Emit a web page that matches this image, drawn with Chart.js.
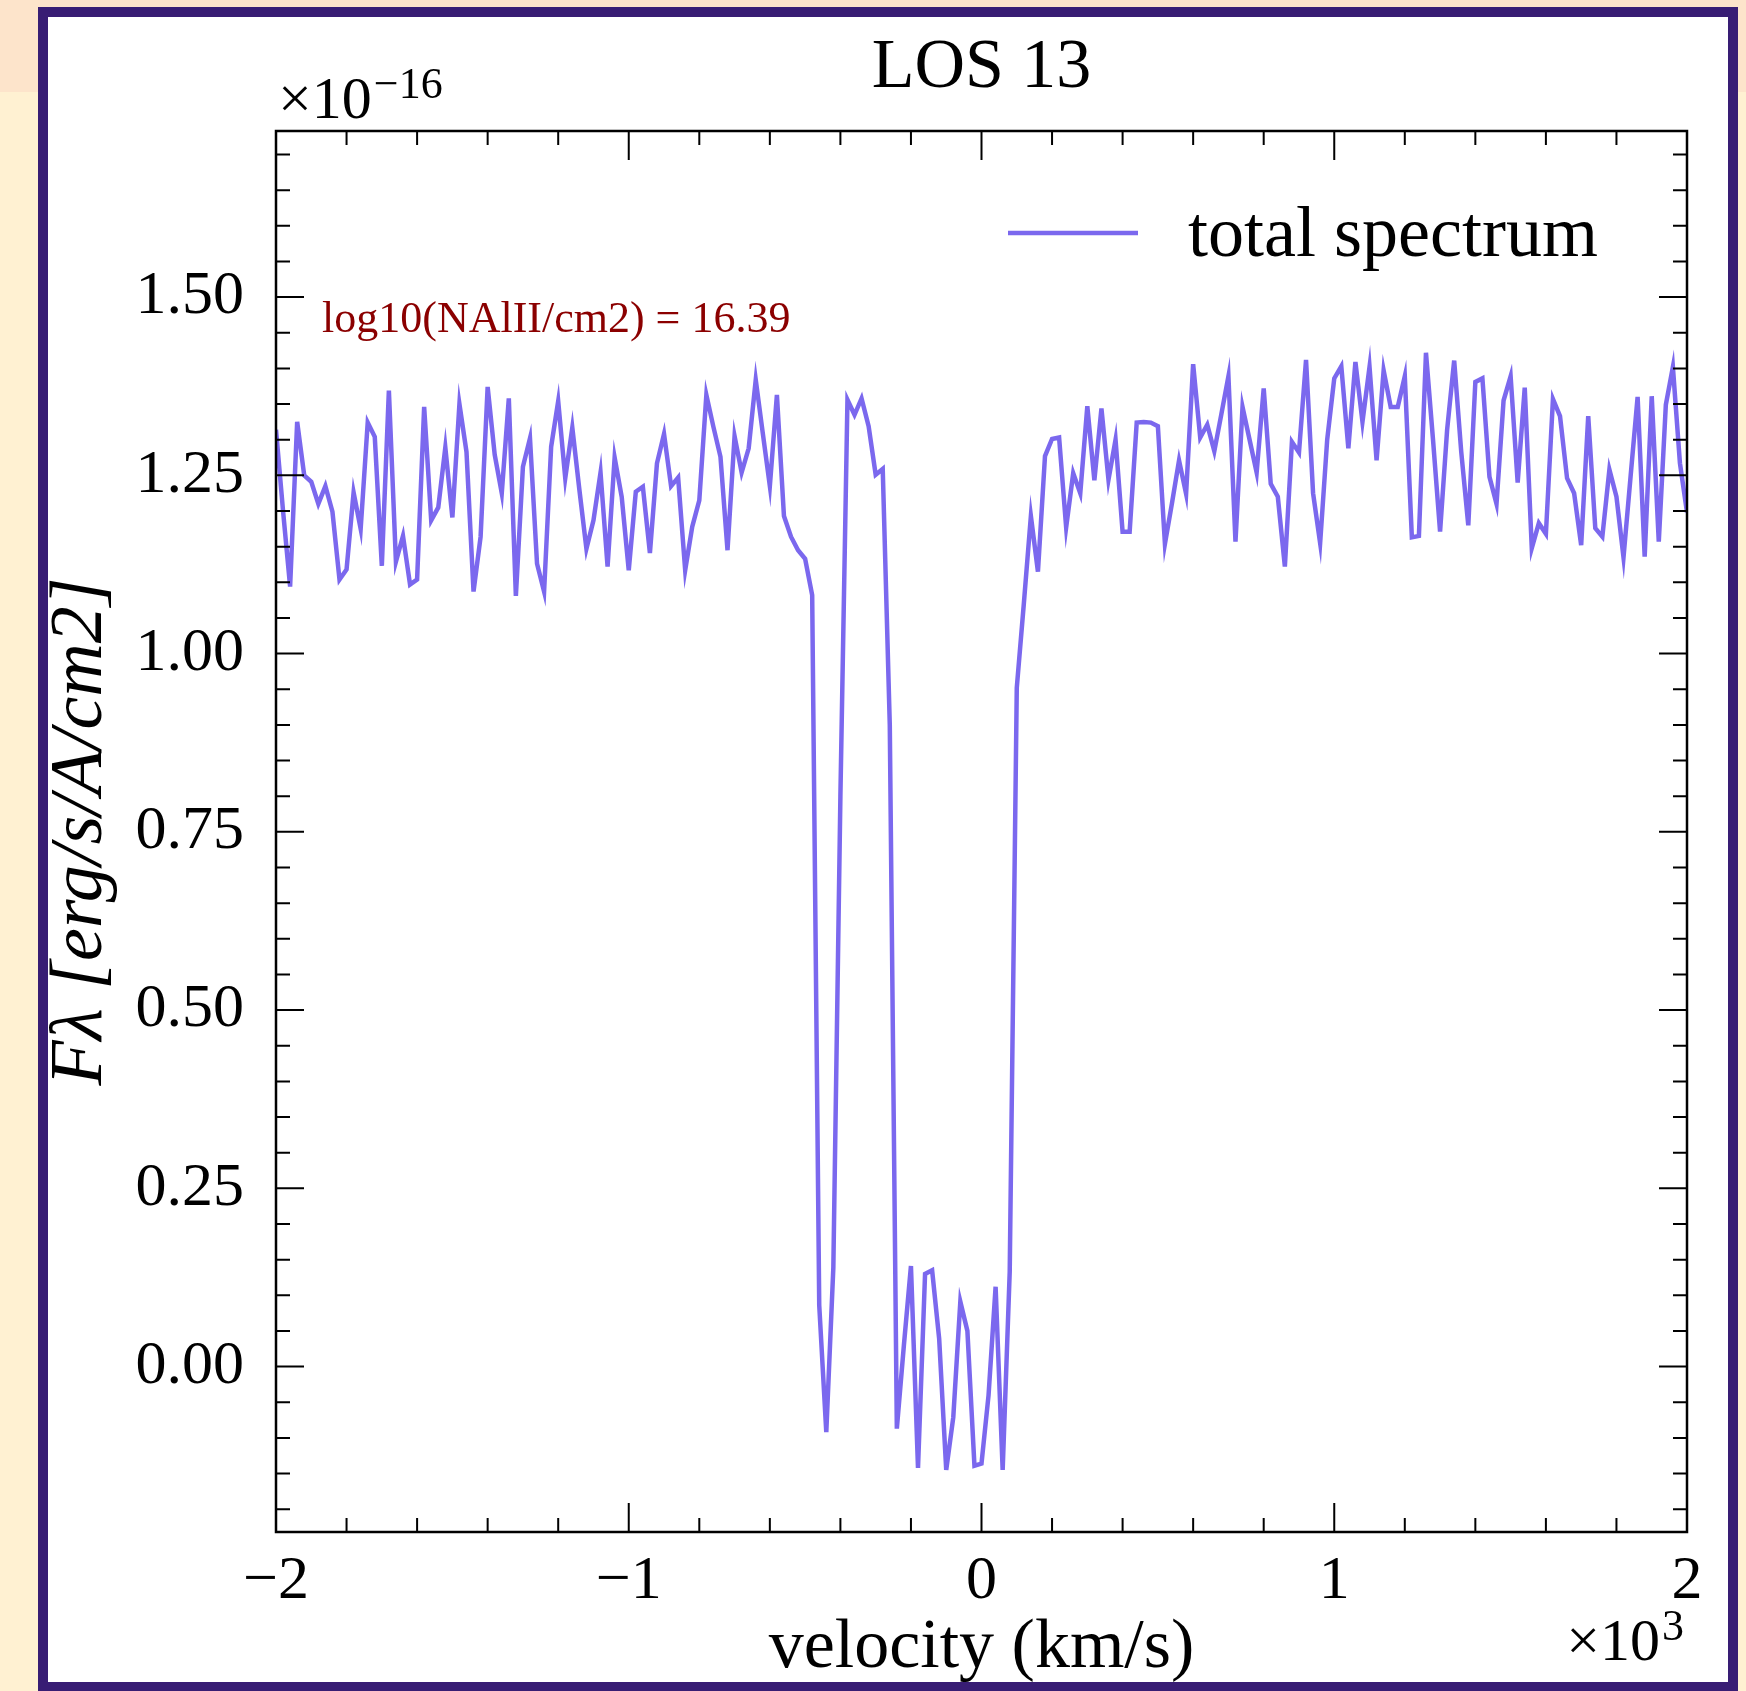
<!DOCTYPE html>
<html>
<head>
<meta charset="utf-8">
<title>LOS 13</title>
<script src="https://cdn.jsdelivr.net/npm/chart.js@4.4.1/dist/chart.umd.min.js"></script>
<style>
  html, body { margin: 0; padding: 0; }
  body { width: 1746px; height: 1691px; position: relative; overflow: hidden; background: #fff1d2; }
  #peach { position: absolute; left: 0; top: 0; width: 1746px; height: 92px; background: #fde4cb; }
  #panel { position: absolute; left: 38px; top: 7px; width: 1680px; height: 1665px; background: #fff; border: 10px solid #381d74; }
  #chart { position: absolute; left: 0; top: 0; }
</style>
</head>
<body>
<div id="peach"></div>
<div id="panel"></div>
<canvas id="chart" width="1746" height="1691"></canvas>
<script>
// spectrum sampled every 20 km/s from -2000 to +2000
var velocityStart = -2000;
var velocityStep = 20;
// F_lambda, in units of 1e-16 erg/s/A/cm2
var flux = [
  1.314, 1.200, 1.094, 1.325, 1.250, 1.241, 1.210, 1.235, 1.199, 1.104,
  1.118, 1.226, 1.175, 1.324, 1.304, 1.123, 1.369, 1.129, 1.165, 1.097,
  1.104, 1.346, 1.187, 1.205, 1.289, 1.191, 1.350, 1.283, 1.087, 1.164,
  1.374, 1.279, 1.225, 1.358, 1.081, 1.262, 1.302, 1.126, 1.087, 1.290,
  1.354, 1.246, 1.317, 1.230, 1.147, 1.187, 1.254, 1.122, 1.275, 1.220,
  1.117, 1.227, 1.234, 1.141, 1.267, 1.308, 1.235, 1.247, 1.117, 1.178,
  1.215, 1.363, 1.318, 1.276, 1.145, 1.305, 1.254, 1.288, 1.384, 1.309,
  1.235, 1.363, 1.193, 1.164, 1.145, 1.133, 1.082, 0.086, -0.092, 0.139,
  0.800, 1.356, 1.335, 1.358, 1.319, 1.251, 1.259, 0.900, -0.087, 0.030,
  0.141, -0.142, 0.130, 0.135, 0.039, -0.145, -0.071, 0.091, 0.050, -0.139,
  -0.136, -0.040, 0.112, -0.145, 0.133, 0.952, 1.070, 1.193, 1.115, 1.277,
  1.301, 1.303, 1.177, 1.253, 1.225, 1.347, 1.243, 1.344, 1.244, 1.300,
  1.171, 1.171, 1.324, 1.325, 1.324, 1.319, 1.154, 1.211, 1.271, 1.224,
  1.406, 1.303, 1.321, 1.284, 1.336, 1.389, 1.157, 1.346, 1.300, 1.254,
  1.372, 1.238, 1.220, 1.122, 1.297, 1.282, 1.412, 1.225, 1.155, 1.300,
  1.386, 1.403, 1.288, 1.409, 1.325, 1.402, 1.271, 1.397, 1.346, 1.346,
  1.389, 1.163, 1.165, 1.422, 1.300, 1.171, 1.314, 1.411, 1.283, 1.180,
  1.381, 1.386, 1.248, 1.210, 1.355, 1.389, 1.240, 1.373, 1.148, 1.183,
  1.168, 1.357, 1.333, 1.246, 1.225, 1.152, 1.333, 1.176, 1.164, 1.258,
  1.220, 1.135, 1.248, 1.360, 1.136, 1.361, 1.157, 1.349, 1.402, 1.267,
  1.198
];
var xTicks = [-2000, -1000, 0, 1000, 2000];
var yTicks = [0, 0.25, 0.5, 0.75, 1.0, 1.25, 1.5];
var xMinorStep = 200;
var yMinorStep = 0.05;
var xMin = -2000, xMax = 2000;
var yMin = -0.232, yMax = 1.733;
var chartTitle = 'LOS 13';
var seriesName = 'total spectrum';
var noteText = 'log10(NAlII/cm2) = 16.39';

var serif = "'Liberation Serif', 'DejaVu Serif', serif";
Chart.defaults.font.family = serif;
Chart.defaults.color = '#000';

var points = flux.map(function (f, i) {
    return { x: velocityStart + i * velocityStep, y: f };
});

// matplotlib style ticks pointing into the frame, on all four sides
var insideTicks = {
    id: 'insideTicks',
    afterDatasetsDraw: function (chart) {
        var ctx = chart.ctx, a = chart.chartArea, x = chart.scales.x, y = chart.scales.y;
        ctx.save();
        ctx.strokeStyle = '#000';
        ctx.lineWidth = 2;
        ctx.beginPath();
        for (var k = Math.ceil(xMin / xMinorStep); k <= Math.floor(xMax / xMinorStep); k++) {
            var px = x.getPixelForValue(k * xMinorStep);
            var len = (k % 5 === 0) ? 29 : 14;
            ctx.moveTo(px, a.bottom); ctx.lineTo(px, a.bottom - len);
            ctx.moveTo(px, a.top); ctx.lineTo(px, a.top + len);
        }
        for (var j = Math.ceil(yMin / yMinorStep); j <= Math.floor(yMax / yMinorStep); j++) {
            var py = y.getPixelForValue(j * yMinorStep);
            var l2 = (j % 5 === 0) ? 28 : 14;
            ctx.moveTo(a.left, py); ctx.lineTo(a.left + l2, py);
            ctx.moveTo(a.right, py); ctx.lineTo(a.right - l2, py);
        }
        ctx.stroke();
        ctx.lineWidth = 2.5;
        ctx.strokeRect(a.left, a.top, a.right - a.left, a.bottom - a.top);
        ctx.restore();
    }
};

function drawPower(ctx, base, exp, x, baseline, raise, align) {
    ctx.font = '60px ' + serif;
    var wb = ctx.measureText(base).width;
    ctx.font = '44px ' + serif;
    var we = ctx.measureText(exp).width;
    var x0 = align === 'right' ? x - wb - we - 2 : x;
    ctx.textAlign = 'left';
    ctx.textBaseline = 'alphabetic';
    ctx.font = '60px ' + serif;
    ctx.fillText(base, x0, baseline);
    ctx.font = '44px ' + serif;
    ctx.fillText(exp, x0 + wb + 2, baseline - raise);
}

var extraText = {
    id: 'extraText',
    afterDraw: function (chart) {
        var ctx = chart.ctx;
        var ds = chart.data.datasets[0];
        ctx.save();
        // legend in the upper right of the frame
        ctx.strokeStyle = ds.borderColor;
        ctx.lineWidth = ds.borderWidth;
        ctx.beginPath();
        ctx.moveTo(1008, 233);
        ctx.lineTo(1138, 233);
        ctx.stroke();
        ctx.fillStyle = '#000';
        ctx.textAlign = 'left';
        ctx.textBaseline = 'alphabetic';
        ctx.font = '72px ' + serif;
        ctx.fillText(ds.label, 1188, 256);
        // column density note
        ctx.fillStyle = '#8b0000';
        ctx.font = '44px ' + serif;
        ctx.fillText(noteText, 322, 332);
        // offset labels of the axes
        ctx.fillStyle = '#000';
        drawPower(ctx, '\u00d710', '\u221216', 278, 118, 20, 'left');
        drawPower(ctx, '\u00d710', '3', 1684, 1660, 20, 'right');
        ctx.restore();
    }
};

var ctx = document.getElementById('chart').getContext('2d');
var chart = new Chart(ctx, {
    type: 'line',
    data: {
        datasets: [{
            label: seriesName,
            data: points,
            borderColor: '#7b68ee',
            borderWidth: 4.5,
            pointRadius: 0,
            tension: 0,
            fill: false
        }]
    },
    options: {
        responsive: false,
        animation: false,
        devicePixelRatio: 1,
        events: [],
        layout: { padding: { left: 0, right: 59, top: 0, bottom: 0 } },
        plugins: {
            legend: { display: false },
            tooltip: { enabled: false },
            title: {
                display: true,
                text: chartTitle,
                fullSize: false,
                color: '#000',
                font: { size: 70, weight: 'normal' },
                padding: { top: 27, bottom: 20 }
            }
        },
        scales: {
            x: {
                type: 'linear',
                min: xMin,
                max: xMax,
                afterBuildTicks: function (scale) {
                    scale.ticks = xTicks.map(function (v) { return { value: v }; });
                },
                afterFit: function (scale) { scale.height = 159; },
                grid: { display: false, drawTicks: false },
                border: { display: false },
                ticks: {
                    autoSkip: false,
                    maxRotation: 0,
                    padding: 13,
                    font: { size: 62 },
                    callback: function (v) {
                        var k = v / 1000;
                        return k < 0 ? '\u2212' + Math.abs(k) : String(k);
                    }
                },
                title: {
                    display: true,
                    text: 'velocity (km/s)',
                    font: { size: 70 },
                    padding: { top: 0, bottom: 0 }
                }
            },
            y: {
                type: 'linear',
                min: yMin,
                max: yMax,
                afterBuildTicks: function (scale) {
                    scale.ticks = yTicks.map(function (v) { return { value: v }; });
                },
                afterFit: function (scale) { scale.width = 276; },
                grid: { display: false, drawTicks: false },
                border: { display: false },
                ticks: {
                    autoSkip: false,
                    padding: 32,
                    font: { size: 62 },
                    callback: function (v) { return v.toFixed(2); }
                },
                title: {
                    display: true,
                    text: 'F\u03bb [erg/s/A/cm2]',
                    font: { size: 74, style: 'italic' },
                    padding: { top: 37, bottom: 0 }
                }
            }
        }
    },
    plugins: [insideTicks, extraText]
});
</script>
</body>
</html>
